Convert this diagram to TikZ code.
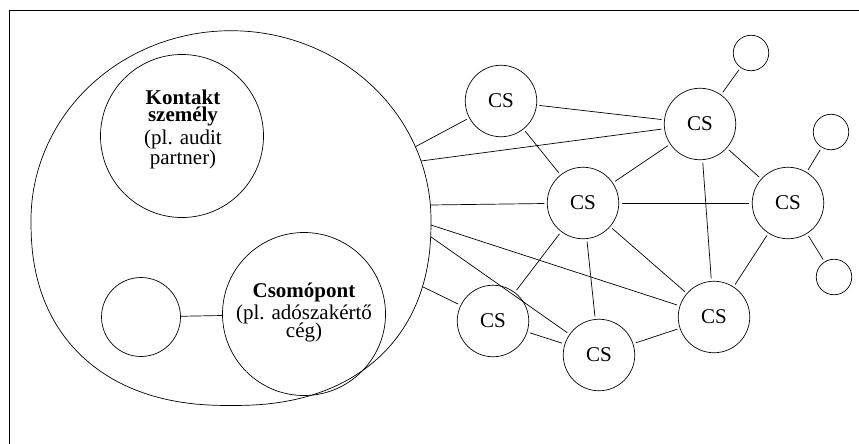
\documentclass[tikz,border=0pt]{standalone}
\usepackage{fontspec}
\setmainfont{Liberation Serif}
\begin{document}
\begin{tikzpicture}[x=1pt,y=-1pt,
  every node/.style={inner sep=0pt, outer sep=0pt},
  ring/.style={draw, circle, line width=0.7pt},
  csnode/.style={ring, minimum size=71.5pt, font=\fontsize{21}{21}\selectfont},
  leaf/.style={ring, minimum size=35.5pt},
  edge/.style={line width=0.7pt, shorten <=3pt, shorten >=3pt},
  spoke/.style={line width=0.7pt, shorten >=3pt},
  frameline/.style={line width=1.3pt},
  txt/.style={align=center, font=\fontsize{21}{17}\selectfont}
]
\useasboundingbox (0,0) rectangle (859,444);
% frame (cropped)
\coordinate (fbl) at (9.5,446);
\coordinate (ftl) at (9.5,10.7);
\coordinate (ftr) at (861,10.7);
\draw[frameline] (fbl) -- (ftl) -- (ftr);

% big group outline: elliptic upper half, slightly fuller lower half
\draw[line width=0.7pt]
  plot[domain=0:180, samples=121, variable=\t]
    ({231+200*sign(cos(\t))*pow(abs(cos(\t))+0.00001,0.8696)},
     {220+185.5*pow(abs(sin(\t))+0.00001,0.8696)})
  -- plot[domain=180:360, samples=121, variable=\t]
    ({231+200*cos(\t)}, {220+189.3*sin(\t)})
  -- cycle;
\coordinate (b1) at (415.4,146.7);
\coordinate (b2) at (421.0,161);
\coordinate (b3) at (430.4,205);
\coordinate (b4) at (431.0,225);
\coordinate (b5) at (430.7,236.7);
\coordinate (b6) at (422.5,286.7);

\node[ring, minimum size=163pt] (kont) at (182,136) {};
\node[txt] (konttxt) at (183,129.5) {\textbf{Kontakt}\\\textbf{személy}\\[3.5pt](pl. audit\\partner)};
\node[ring, minimum size=79pt] (sm) at (141,317) {};
\node[ring, minimum size=163pt] (csom) at (304,314) {};
\node[txt] (csomtxt) at (304,312.5) {\textbf{Csomópont}\\[2.5pt](pl. adószakértő\\[-2pt]cég)};
\draw[line width=0.7pt] (sm) -- (csom);

% network
\node[csnode] (cs1) at (501,101) {CS};
\node[csnode] (cs2) at (700,124) {CS};
\node[csnode] (cs3) at (583,203) {CS};
\node[csnode] (cs4) at (788,203) {CS};
\node[csnode] (cs5) at (493,321) {CS};
\node[csnode] (cs6) at (599,355) {CS};
\node[csnode] (cs7) at (714,317) {CS};
\node[leaf] (s1) at (751,53) {};
\node[leaf] (s2) at (831,132) {};
\node[leaf] (s3) at (834,277) {};

% spokes from the big group
\draw[spoke] (b1) -- (cs1);
\draw[spoke] (b2) -- (cs2);
\draw[spoke] (b3) -- (cs3);
\draw[spoke] (b4) -- (cs7);
\draw[spoke] (b5) -- (cs6);
\draw[spoke] (b6) -- (cs5);

% edges between CS nodes
\draw[edge] (cs1) -- (cs2);
\draw[edge] (cs1) -- (cs3);
\draw[edge] (cs2) -- (cs3);
\draw[edge] (cs2) -- (cs4);
\draw[edge] (cs2) -- (cs7);
\draw[edge] (cs2) -- (s1);
\draw[edge] (cs3) -- (cs4);
\draw[edge] (cs3) -- (cs5);
\draw[edge] (cs3) -- (cs6);
\draw[edge] (cs3) -- (cs7);
\draw[edge] (cs4) -- (cs7);
\draw[edge] (cs4) -- (s2);
\draw[edge] (cs4) -- (s3);
\draw[edge] (cs5) -- (cs6);
\draw[edge] (cs6) -- (cs7);
\end{tikzpicture}
\end{document}
